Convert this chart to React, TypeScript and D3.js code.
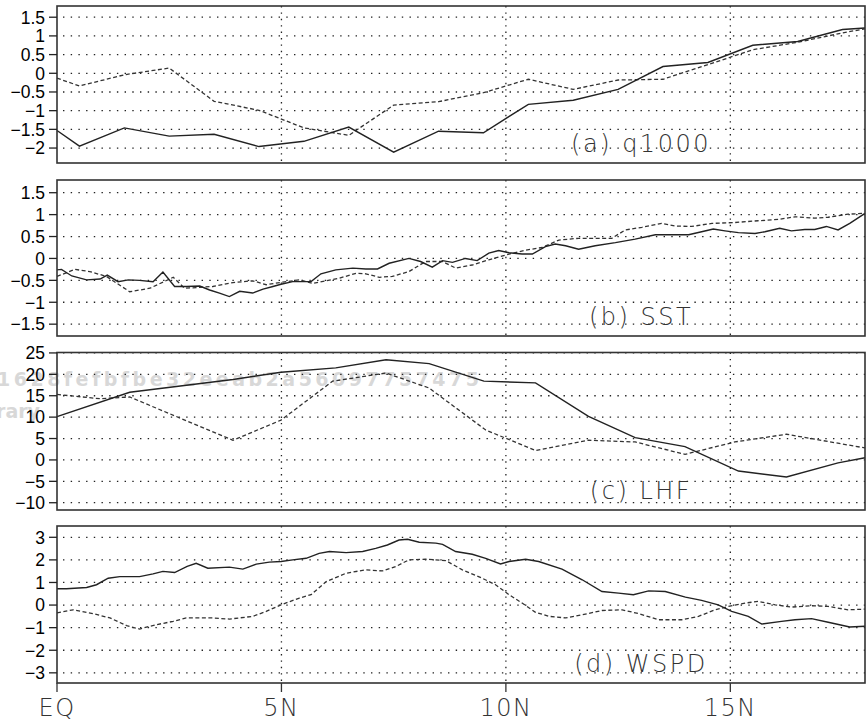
import * as d3 from 'd3';
import React from 'react';

// latitude axis
const latTicks = [0, 5, 10, 15];
const latLabels = ['EQ', '5N', '10N', '15N'];

// (a) q1000
const qLat = [0, 0.5, 1.5, 2.5, 3.5, 4.5, 5.5, 6.5, 7.5, 8.5, 9.5, 10.5, 11.5, 12.5, 13.5, 14.5, 15.5, 16.5, 17.5, 18];
const qSolid = [-1.53, -1.95, -1.46, -1.68, -1.63, -1.96, -1.82, -1.44, -2.11, -1.55, -1.59, -0.83, -0.72, -0.43, 0.18, 0.29, 0.75, 0.85, 1.17, 1.21];
const qDashed = [-0.13, -0.34, -0.04, 0.14, -0.75, -0.99, -1.46, -1.66, -0.85, -0.76, -0.52, -0.16, -0.43, -0.18, -0.16, 0.23, 0.63, 0.83, 1.08, 1.19];
const qTicks = [-2, -1.5, -1, -0.5, 0, 0.5, 1, 1.5];

// (b) SST
const sstSolidLat = [0, 0.1, 0.33, 0.66, 0.96, 1.12, 1.36, 1.59, 1.84, 2.14, 2.36, 2.62, 2.88, 3.18, 3.4, 3.62, 3.84, 4.07, 4.36, 4.59, 4.81, 4.99, 5.25, 5.66, 5.88, 6.21, 6.59, 6.88, 7.14, 7.4, 7.84, 8.1, 8.36, 8.59, 8.81, 9.1, 9.36, 9.62, 9.84, 10.07, 10.36, 10.59, 10.88, 11.1, 11.33, 11.62, 11.99, 12.44, 12.88, 13.33, 13.77, 14.07, 14.36, 14.62, 14.88, 15.18, 15.55, 15.77, 16.1, 16.36, 16.66, 16.88, 17.14, 17.4, 17.66, 18];
const sstSolid = [-0.26, -0.25, -0.4, -0.49, -0.47, -0.38, -0.53, -0.49, -0.5, -0.53, -0.31, -0.64, -0.64, -0.63, -0.72, -0.79, -0.87, -0.75, -0.79, -0.7, -0.64, -0.59, -0.53, -0.53, -0.35, -0.26, -0.22, -0.24, -0.24, -0.11, 0.0, -0.07, -0.2, -0.05, -0.09, 0.0, -0.05, 0.12, 0.18, 0.13, 0.1, 0.1, 0.27, 0.33, 0.29, 0.21, 0.29, 0.36, 0.44, 0.54, 0.54, 0.54, 0.61, 0.67, 0.63, 0.59, 0.57, 0.61, 0.69, 0.63, 0.66, 0.66, 0.73, 0.65, 0.8, 1.03];
const sstDashedLat = [0, 0.4, 0.73, 1.1, 1.62, 2.07, 2.59, 2.84, 3.18, 3.47, 3.92, 4.36, 4.66, 5.03, 5.4, 5.7, 6.0, 6.29, 6.66, 6.88, 7.18, 7.47, 7.84, 8.21, 8.59, 8.88, 9.25, 9.62, 10.0, 10.44, 10.81, 11.18, 11.62, 11.99, 12.36, 12.66, 13.03, 13.47, 13.77, 14.14, 14.59, 15.1, 15.62, 16.07, 16.44, 16.88, 17.18, 17.62, 18];
const sstDashed = [-0.41, -0.25, -0.3, -0.41, -0.76, -0.68, -0.43, -0.68, -0.66, -0.64, -0.55, -0.51, -0.6, -0.54, -0.49, -0.57, -0.51, -0.45, -0.34, -0.35, -0.43, -0.41, -0.3, -0.07, -0.07, -0.22, -0.15, -0.03, 0.08, 0.19, 0.25, 0.42, 0.46, 0.46, 0.46, 0.65, 0.71, 0.8, 0.74, 0.73, 0.8, 0.82, 0.86, 0.89, 0.95, 0.92, 0.94, 1.01, 1.03];
const sstTicks = [-1.5, -1, -0.5, 0, 0.5, 1, 1.5];

// (c) LHF
const lhfSolidLat = [0, 1.62, 3.92, 4.99, 6.21, 7.33, 8.29, 9.51, 10.66, 11.84, 12.88, 13.99, 15.18, 16.25, 17.4, 18];
const lhfSolid = [10.1, 15.8, 18.8, 20.5, 21.5, 23.4, 22.5, 18.4, 18.0, 10.2, 5.2, 3.1, -2.6, -4.0, -0.7, 0.5];
const lhfDashedLat = [0, 0.96, 1.62, 3.92, 4.99, 6.14, 7.33, 8.29, 9.55, 10.66, 11.84, 12.88, 13.99, 15.1, 16.25, 18];
const lhfDashed = [15.3, 14.3, 14.7, 4.6, 9.3, 18.4, 20.3, 16.8, 7.0, 2.2, 4.6, 4.2, 1.3, 4.2, 6.0, 2.8];
const lhfTicks = [-10, -5, 0, 5, 10, 15, 20, 25];

// (d) WSPD
const wsSolidLat = [0, 0.21, 0.66, 0.88, 1.14, 1.4, 1.84, 2.14, 2.36, 2.62, 2.9, 3.1, 3.36, 3.84, 4.14, 4.44, 4.73, 4.99, 5.25, 5.55, 5.84, 6.07, 6.44, 6.81, 7.1, 7.36, 7.62, 7.81, 8.07, 8.44, 8.59, 8.88, 9.25, 9.55, 9.88, 10.07, 10.44, 10.73, 11.25, 11.7, 12.14, 12.51, 12.84, 13.18, 13.55, 14.0, 14.36, 14.73, 15.03, 15.4, 15.7, 16.14, 16.44, 16.81, 17.18, 17.66, 18];
const wsSolid = [0.72, 0.72, 0.78, 0.9, 1.19, 1.26, 1.26, 1.38, 1.49, 1.44, 1.71, 1.85, 1.63, 1.68, 1.59, 1.81, 1.9, 1.93, 2.0, 2.07, 2.29, 2.37, 2.32, 2.37, 2.51, 2.66, 2.88, 2.91, 2.78, 2.74, 2.69, 2.37, 2.25, 2.07, 1.82, 1.93, 2.03, 1.93, 1.59, 1.12, 0.6, 0.53, 0.46, 0.63, 0.6, 0.35, 0.21, 0.01, -0.28, -0.5, -0.84, -0.72, -0.65, -0.6, -0.76, -0.97, -0.94];
const wsDashedLat = [0, 0.36, 0.81, 1.18, 1.55, 1.84, 2.21, 2.59, 2.88, 3.47, 3.84, 4.36, 4.66, 4.99, 5.4, 5.66, 6.0, 6.44, 6.88, 7.25, 7.55, 7.84, 8.21, 8.66, 9.03, 9.47, 9.77, 10.07, 10.36, 10.66, 10.96, 11.33, 11.7, 12.14, 12.59, 12.96, 13.4, 13.92, 14.29, 14.66, 14.96, 15.33, 15.62, 16.0, 16.36, 16.81, 17.18, 17.62, 18];
const wsDashed = [-0.35, -0.21, -0.38, -0.57, -0.91, -1.06, -0.87, -0.72, -0.57, -0.57, -0.62, -0.5, -0.28, 0.01, 0.31, 0.46, 1.04, 1.41, 1.56, 1.51, 1.71, 2.0, 2.03, 1.97, 1.56, 1.19, 0.9, 0.46, 0.09, -0.32, -0.5, -0.57, -0.43, -0.24, -0.21, -0.38, -0.65, -0.65, -0.5, -0.21, -0.06, 0.09, 0.16, 0.01, -0.09, -0.03, -0.06, -0.21, -0.18];
const wsTicks = [-3, -2, -1, 0, 1, 2, 3];

const W = 867;
const H = 721;
const LEFT = 57;
const RIGHT = 865;

const panels = [
  { label: '(a) q1000', top: 6, bottom: 163, domain: [-2.4, 1.8], ticks: qTicks, solid: [qLat, qSolid], dashed: [qLat, qDashed] },
  { label: '(b) SST', top: 180, bottom: 336, domain: [-1.77, 1.79], ticks: sstTicks, solid: [sstSolidLat, sstSolid], dashed: [sstDashedLat, sstDashed] },
  { label: '(c) LHF', top: 352.5, bottom: 510, domain: [-11.7, 25.1], ticks: lhfTicks, solid: [lhfSolidLat, lhfSolid], dashed: [lhfDashedLat, lhfDashed] },
  { label: '(d) WSPD', top: 526, bottom: 683, domain: [-3.45, 3.5], ticks: wsTicks, solid: [wsSolidLat, wsSolid], dashed: [wsDashedLat, wsDashed] },
];

const fmt = (v: number) => (v < 0 ? '\u2212' + String(Math.abs(v)) : String(v));
const thinFont = '"DejaVu Sans ExtraLight", "DejaVu Sans", sans-serif';

const Panel = ({ p, x, last }: any) => {
  const y = d3.scaleLinear().domain(p.domain).range([p.bottom, p.top]);
  const line = d3.line<[number, number]>().x(d => x(d[0])).y(d => y(d[1]));
  const pts = (s: number[][]) => s[0].map((lat, i) => [lat, s[1][i]] as [number, number]);
  return (
    <g>
      {/* horizontal dotted grid */}
      {p.ticks.map((t: number) => (
        <line key={'h' + t} x1={LEFT + 6} x2={RIGHT} y1={y(t)} y2={y(t)}
          stroke="#222" strokeWidth={1.3} strokeDasharray="1.4,6.3" />
      ))}
      {/* vertical dotted grid */}
      {latTicks.slice(1).map(t => (
        <line key={'v' + t} x1={x(t)} x2={x(t)} y1={p.top} y2={p.bottom}
          stroke="#222" strokeWidth={1.3} strokeDasharray="1.4,5" />
      ))}
      <text x={641} y={p.bottom - 11} textAnchor="middle" fontFamily={thinFont} fontWeight={200}
        fontSize={24} letterSpacing={2.5} fill="#333">{p.label}</text>
      <path d={line(pts(p.dashed)) || ''} fill="none" stroke="#333" strokeWidth={1.3} strokeDasharray="4,2.5" />
      <path d={line(pts(p.solid)) || ''} fill="none" stroke="#222" strokeWidth={1.4} />
      <rect x={LEFT} y={p.top} width={RIGHT - LEFT} height={p.bottom - p.top} fill="none" stroke="#333" strokeWidth={1.6} />
      {p.ticks.map((t: number) => (
        <g key={'t' + t}>
          <line x1={LEFT - 8} x2={LEFT} y1={y(t)} y2={y(t)} stroke="#222" strokeWidth={1.3} />
          <text x={45} y={y(t)} dy="0.36em" textAnchor="end" fontFamily='"Liberation Sans", Arial, sans-serif'
            fontSize={17.5} fill="#000">{fmt(t)}</text>
        </g>
      ))}
      {last && latTicks.map((t, i) => (
        <g key={'x' + t}>
          <line x1={x(t)} x2={x(t)} y1={p.bottom} y2={p.bottom + 9} stroke="#333" strokeWidth={1.3} />
          <text x={x(t)} y={p.bottom + 33} textAnchor="middle" fontFamily={thinFont} fontWeight={200}
            fontSize={24} letterSpacing={1.5} fill="#333">{latLabels[i]}</text>
        </g>
      ))}
    </g>
  );
};

export default function App() {
  const x = d3.scaleLinear().domain([0, 18]).range([LEFT, RIGHT]);
  return (
    <div style={{ position: 'absolute', left: 0, top: 0, width: W, height: H, background: '#fff' }}>
      <svg width={W} height={H} style={{ display: 'block' }}>
        <rect width={W} height={H} fill="#fff" />
        {/* watermark */}
        <text x={-3} y={386} textLength={482} lengthAdjust="spacing" fontFamily='"DejaVu Sans", sans-serif'
          fontWeight="bold" fontSize={19} fill="#d8d8d8">1628fefbfbe32eeab2a56097757475</text>
        <text x={40} y={418} textAnchor="end" fontFamily='"DejaVu Sans", sans-serif'
          fontWeight="bold" fontSize={19} fill="#d8d8d8">Library</text>
        {panels.map((p, i) => (
          <Panel key={p.label} p={p} x={x} last={i === panels.length - 1} />
        ))}
      </svg>
    </div>
  );
}
